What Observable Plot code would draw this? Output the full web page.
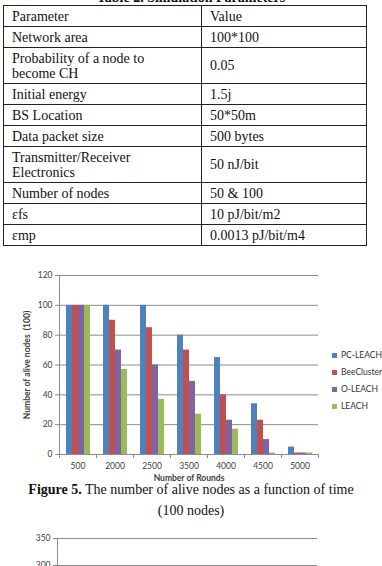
<!DOCTYPE html>
<html>
<head>
<meta charset="utf-8">
<script src="https://cdn.jsdelivr.net/npm/d3@7"></script>
<script src="https://cdn.jsdelivr.net/npm/@observablehq/plot@0.6"></script>
<style>
  html, body { margin: 0; padding: 0; background: #fff; }
  body { width: 382px; height: 566px; position: relative; overflow: hidden; }
  .serif { font-family: "Liberation Serif", "Times New Roman", serif; color: #111; }
  #tableTitle { position: absolute; left: 0; width: 382px; top: -9px; text-align: center; font-weight: bold; font-size: 14px; line-height: 14px; }
  table { position: absolute; left: 3px; top: 5px; width: 364px; border-collapse: collapse; font-size: 14px; line-height: 15px; }
  td { border: 1px solid #222; padding: 0 8px; vertical-align: middle; }
  td:first-child { width: 181px; }
  tr.single td { height: 20px; }
  tr.double td { height: 35px; }
  #chart1 { position: absolute; left: 0; top: 260px; }
  #chart2 { position: absolute; left: 0; top: 525px; }
  #legend { position: absolute; left: 332px; top: 347px; font-family: Lato, "Open Sans", sans-serif; font-size: 8.5px; color: #333; white-space: nowrap; }
  #legend div { height: 17px; line-height: 17px; display: flex; align-items: center; }
  #legend span.sw { display: inline-block; width: 5px; height: 5px; margin-right: 4px; }
  #caption { position: absolute; left: 0; width: 382px; top: 479px; text-align: center; font-size: 14px; line-height: 21px; }
  svg [aria-label="y-axis label"], svg [aria-label="fx-axis label"] { font-weight: bold; }
</style>
</head>
<body>
<div id="tableTitle" class="serif">Table 2. Simulation Parameters</div>
<table class="serif" id="params"></table>
<div id="chart1"></div>
<div id="legend"></div>
<div id="caption" class="serif"><b>Figure 5.</b> The number of alive nodes as a function of time<br>(100 nodes)</div>
<div id="chart2"></div>
<script>
// Simulation parameters table
const paramNames = ["Parameter", "Network area", "Probability of a node to<br>become CH", "Initial energy",
  "BS Location", "Data packet size", "Transmitter/Receiver<br>Electronics", "Number of nodes", "εfs", "εmp"];
const paramValues = ["Value", "100*100", "0.05", "1.5j", "50*50m", "500 bytes", "50 nJ/bit",
  "50 &amp; 100", "10 pJ/bit/m2", "0.0013 pJ/bit/m4"];

// Alive nodes per round for each protocol (100 nodes)
const rounds = ["500", "2000", "2500", "3500", "4000", "4500", "5000"];
const series = ["PC-LEACH", "BeeCluster", "O-LEACH", "LEACH"];
const pcLeach    = [100, 100, 100, 80, 65, 34, 5];
const beeCluster = [100,  90,  85, 70, 40, 23, 1];
const oLeach     = [100,  70,  60, 49, 23, 10, 1];
const leach      = [100,  57,  37, 27, 17,  1, 1];
const seriesColors = ["#4F81BD", "#C0504D", "#8064A2", "#9BBB59"];
const yTicks = [0, 20, 40, 60, 80, 100, 120];
const xTitle = "Number of Rounds";
const yTitle = "Number of alive nodes  (100)";

// Next figure's axis (partially shown)
const yTicks2 = [0, 50, 100, 150, 200, 250, 300, 350];

// ---- table ----
const table = document.getElementById("params");
paramNames.forEach((name, i) => {
  const tr = document.createElement("tr");
  tr.className = name.includes("<br>") ? "double" : "single";
  tr.innerHTML = `<td>${name}</td><td>${paramValues[i]}</td>`;
  table.appendChild(tr);
});

// ---- grouped bar chart ----
const valuesBySeries = [pcLeach, beeCluster, oLeach, leach];
const rows = rounds.flatMap((round, i) =>
  series.map((s, j) => ({round, series: s, value: valuesBySeries[j][i]})));

const width = 382, marginLeft = 58, marginRight = 64;
const step = (width - marginLeft - marginRight) / rounds.length;
const grid = "#8c8c8c";
const font = {fontFamily: "Lato, 'Open Sans', sans-serif", fontSize: "8.5px", color: "#404040", background: "transparent", overflow: "visible"};

const chart = Plot.plot({
  width, height: 230,
  marginLeft, marginRight, marginTop: 15, marginBottom: 36,
  style: font,
  fx: {domain: rounds, padding: 0},
  x: {domain: series, paddingInner: 0, paddingOuter: 0.75, axis: null},
  y: {domain: [0, 120]},
  color: {domain: series, range: seriesColors},
  marks: [
    Plot.gridY(yTicks.filter(d => d > 0), {stroke: grid, strokeOpacity: 1}),
    Plot.barY(rows, {fx: "round", x: "series", y: "value", fill: "series"}),
    Plot.ruleY([0], {stroke: grid}),
    Plot.frame({anchor: "left", facetAnchor: "left", stroke: grid}),
    Plot.axisY({ticks: yTicks, tickSize: 4, tickPadding: 3, stroke: grid,
      label: yTitle, labelAnchor: "center", labelArrow: "none", labelOffset: 36}),
    Plot.axisFx({anchor: "bottom", tickSize: 0, tickPadding: 8,
      label: xTitle, labelAnchor: "center", labelOffset: 26}),
    Plot.axisFx({anchor: "bottom", tickSize: 4, tickFormat: () => "", label: null, dx: -step / 2, stroke: grid}),
    Plot.axisFx({anchor: "bottom", tickSize: 4, tickFormat: () => "", label: null, dx: step / 2, stroke: grid})
  ]
});
document.getElementById("chart1").appendChild(chart);

// ---- legend ----
const legend = document.getElementById("legend");
series.forEach((s, i) => {
  const row = document.createElement("div");
  row.innerHTML = `<span class="sw" style="background:${seriesColors[i]}"></span>${s}`;
  legend.appendChild(row);
});

// ---- next figure (top portion) ----
const chart2 = Plot.plot({
  width, height: 215,
  marginLeft: 57, marginRight: 65, marginTop: 13, marginBottom: 13,
  style: font,
  y: {domain: [0, 350]},
  marks: [
    Plot.gridY(yTicks2.filter(d => d > 0), {stroke: grid, strokeOpacity: 1}),
    Plot.ruleY([0], {stroke: grid}),
    Plot.frame({anchor: "left", stroke: grid}),
    Plot.axisY({ticks: yTicks2, tickSize: 4, tickPadding: 3, stroke: grid, label: null})
  ]
});
document.getElementById("chart2").appendChild(chart2);
</script>
</body>
</html>
